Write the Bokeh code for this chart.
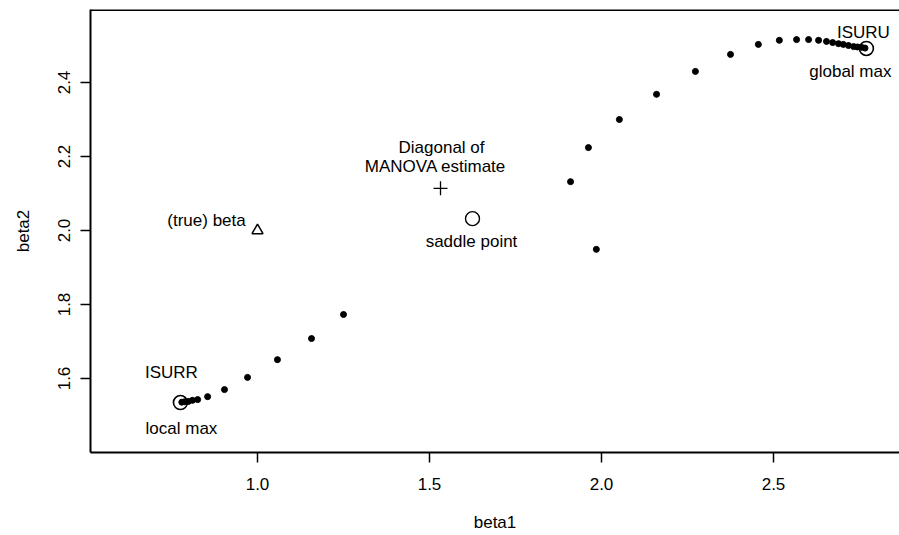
from bokeh.plotting import figure
from bokeh.models import FixedTicker, Range1d, Span, ColumnDataSource, PrintfTickFormatter
from bokeh.core.properties import value
from bokeh.embed import file_html
from bokeh.resources import INLINE

# ---- data ----
path_beta1 = [1.250, 1.157, 1.058, 0.971, 0.904, 0.855, 0.826, 0.811, 0.799, 0.788, 0.780,
              1.985, 1.910, 1.962, 2.052, 2.160, 2.273, 2.375, 2.456, 2.517, 2.567, 2.602,
              2.631, 2.654, 2.672, 2.689, 2.703, 2.718, 2.733, 2.744, 2.756, 2.766]
path_beta2 = [1.773, 1.708, 1.651, 1.603, 1.570, 1.551, 1.543, 1.541, 1.538, 1.537, 1.536,
              1.949, 2.132, 2.224, 2.300, 2.368, 2.430, 2.476, 2.503, 2.514, 2.516, 2.516,
              2.514, 2.511, 2.508, 2.505, 2.503, 2.500, 2.497, 2.496, 2.495, 2.493]

max_beta1 = [0.776, 2.770]          # ISURR local max, ISURU global max
max_beta2 = [1.535, 2.492]
saddle_beta1 = [1.625]
saddle_beta2 = [2.032]
true_beta1 = [1.0]
true_beta2 = [2.0]
manova_beta1 = [1.532]
manova_beta2 = [2.114]

x_ticks = [1.0, 1.5, 2.0, 2.5]
y_ticks = [1.6, 1.8, 2.0, 2.2, 2.4]

label_texts = ["(true) beta", "Diagonal of", "MANOVA estimate", "saddle point",
               "ISURU", "global max", "ISURR", "local max"]

# ---- layout ----
FONT = "Liberation Sans"
FS = "17px"

W, H = 899, 535
# frame: 90..899 px horizontally, 9..452 px vertically
px_per_x = 344.0
px_per_y = 370.0
x_start = x_ticks[0] - (257 - 90) / px_per_x
x_end = x_ticks[0] + (W - 257) / px_per_x
y_start = y_ticks[0] - (452 - 378) / px_per_y
y_end = y_ticks[-1] + (82 - 9) / px_per_y

p = figure(width=W, height=H, output_backend="svg", toolbar_location=None,
           x_range=Range1d(x_start, x_end), y_range=Range1d(y_start, y_end),
           min_border_left=90, min_border_right=0, min_border_top=9, min_border_bottom=H - 452)
p.background_fill_color = "white"
p.border_fill_color = "white"
p.outline_line_color = None
p.grid.visible = False

for ax, ticks in ((p.xaxis[0], x_ticks), (p.yaxis[0], y_ticks)):
    ax.ticker = FixedTicker(ticks=ticks, minor_ticks=[])
    ax.formatter = PrintfTickFormatter(format="%.1f")
    ax.major_tick_in = 0
    ax.major_tick_out = 10
    ax.minor_tick_line_color = None
    ax.axis_line_width = 2
    ax.axis_line_color = "black"
    ax.major_tick_line_width = 1.5
    ax.major_tick_line_color = "black"
    ax.major_label_text_font = FONT
    ax.major_label_text_font_size = FS
    ax.major_label_text_color = "black"
    ax.axis_label_text_font = FONT
    ax.axis_label_text_font_size = FS
    ax.axis_label_text_font_style = "normal"
    ax.axis_label_text_color = "black"

p.xaxis.axis_label = "beta1"
p.xaxis.major_label_standoff = 15
p.xaxis.axis_label_standoff = 20
p.yaxis.axis_label = "beta2"
p.yaxis.major_label_orientation = "vertical"
p.yaxis.major_label_standoff = 11
p.yaxis.axis_label_standoff = 22

# top border of the box
p.add_layout(Span(location=y_end, dimension="width", line_color="black", line_width=3))

# path of estimates
p.scatter(path_beta1, path_beta2, size=6, color="black")
# maxima and saddle point
p.scatter(max_beta1, max_beta2, marker="circle", size=14, fill_color=None,
          line_color="black", line_width=1.6)
p.scatter(saddle_beta1, saddle_beta2, marker="circle", size=14, fill_color=None,
          line_color="black", line_width=1.4)
p.scatter(true_beta1, true_beta2, marker="triangle", size=11, fill_color=None,
          line_color="black", line_width=1.5)
p.scatter(manova_beta1, manova_beta2, marker="cross", size=14,
          line_color="black", line_width=1.3)

# labels anchored to their points, shifted by pixel offsets
anchor_x = [true_beta1[0], manova_beta1[0], manova_beta1[0], saddle_beta1[0],
            max_beta1[1], max_beta1[1], max_beta1[0], max_beta1[0]]
anchor_y = [true_beta2[0], manova_beta2[0], manova_beta2[0], saddle_beta2[0],
            max_beta2[1], max_beta2[1], max_beta2[0], max_beta2[0]]
off_x = [-51, 1, -5, -1, -3, -16, -9, 1]
off_y = [-10, -41, -22, 23, -16, 23, -30, 26]
src = ColumnDataSource(dict(x=anchor_x, y=anchor_y, text=label_texts, dx=off_x, dy=off_y))
p.text(x="x", y="y", text="text", x_offset="dx", y_offset="dy", source=src,
       text_align="center", text_baseline="middle", text_color="black",
       text_font=value(FONT), text_font_size=FS)

open("out.html", "w").write(file_html(p, INLINE))
